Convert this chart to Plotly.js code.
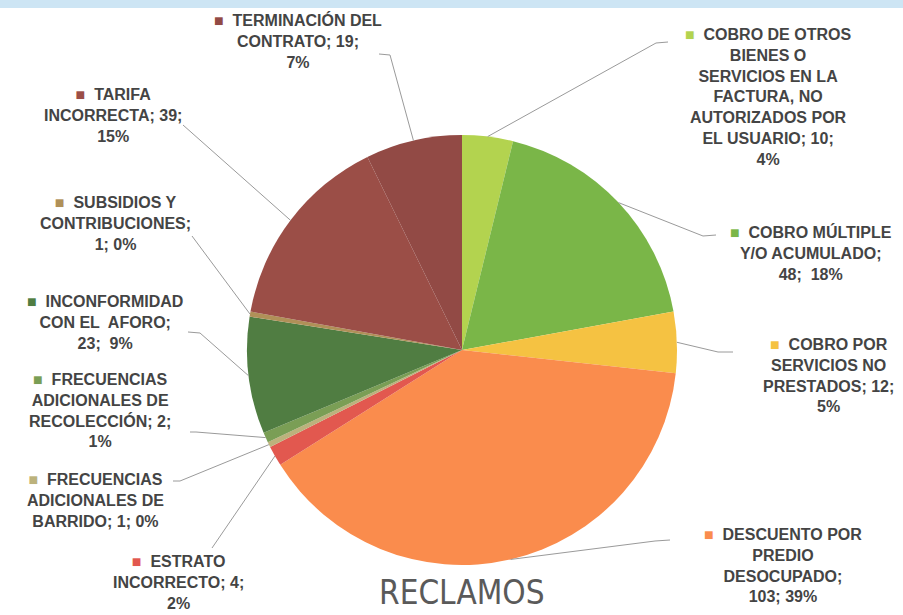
<!DOCTYPE html>
<html>
<head>
<meta charset="utf-8">
<script src="https://cdn.plot.ly/plotly-3.0.1.min.js"></script>
<style>
  html, body { margin: 0; padding: 0; background: #fff; }
  #chart { width: 903px; height: 615px; }
</style>
</head>
<body>
<div id="chart"></div>
<script>
// data
var categories = [
  'COBRO DE OTROS BIENES O SERVICIOS EN LA FACTURA, NO AUTORIZADOS POR EL USUARIO',
  'COBRO MÚLTIPLE Y/O ACUMULADO',
  'COBRO POR SERVICIOS NO PRESTADOS',
  'DESCUENTO POR PREDIO DESOCUPADO',
  'ESTRATO INCORRECTO',
  'FRECUENCIAS ADICIONALES DE BARRIDO',
  'FRECUENCIAS ADICIONALES DE RECOLECCIÓN',
  'INCONFORMIDAD CON EL AFORO',
  'SUBSIDIOS Y CONTRIBUCIONES',
  'TARIFA INCORRECTA',
  'TERMINACIÓN DEL CONTRATO'
];
var values = [10, 48, 12, 103, 4, 1, 2, 23, 1, 39, 19];
// how each category name is broken on the label
var labelLines = [
  ['COBRO DE OTROS', 'BIENES O', 'SERVICIOS EN LA', 'FACTURA, NO', 'AUTORIZADOS POR', 'EL USUARIO; {v};', '{p}'],
  ['COBRO MÚLTIPLE', 'Y/O ACUMULADO;', '{v};  {p}'],
  ['COBRO POR', 'SERVICIOS NO', 'PRESTADOS; {v};', '{p}'],
  ['DESCUENTO POR', 'PREDIO', 'DESOCUPADO;', '{v}; {p}'],
  ['ESTRATO', 'INCORRECTO; {v};', '{p}'],
  ['FRECUENCIAS', 'ADICIONALES DE', 'BARRIDO; {v}; {p}'],
  ['FRECUENCIAS', 'ADICIONALES DE', 'RECOLECCIÓN; {v};', '{p}'],
  ['INCONFORMIDAD', 'CON EL  AFORO;', '{v};  {p}'],
  ['SUBSIDIOS Y', 'CONTRIBUCIONES;', '{v}; {p}'],
  ['TARIFA', 'INCORRECTA; {v};', '{p}'],
  ['TERMINACIÓN DEL', 'CONTRATO; {v};', '{p}']
];
var colors = ['#b3d34f', '#7ab648', '#f5c242', '#fa8c4d', '#e2584f', '#bcb27c',
              '#7a9e55', '#507d42', '#b09058', '#9b4e47', '#924a45'];

// layout of pie (pixels)
var W = 903, H = 615;
var cx = 462, cy = 350, r = 215;

// label block: center x, top y ; leader line end and elbow (pixels)
var labelPos = [
  [768, 24, 668, 42, 656, 43],
  [811, 221, 716, 235, 703, 236],
  [828, 334, 733, 352, 718, 352],
  [783, 524, 670, 540, 655, 541],
  [178, 551, 212, 548, 212, 548],
  [95, 469, 173, 481, 180, 481],
  [100, 369, 190, 432, 196, 432],
  [105, 291, 188, 332, 200, 333],
  [115, 192, 192, 236, 192, 236],
  [113, 84, 183, 125, 183, 125],
  [298, 9, 379, 54, 390, 55]
];

function px(x) { return x / W; }
function py(y) { return 1 - y / H; }

var total = values.reduce(function (a, b) { return a + b; }, 0);

var annotations = [];
var shapes = [];

// light blue band at the top
shapes.push({
  type: 'rect', xref: 'paper', yref: 'paper',
  x0: 0, x1: 1, y0: py(8), y1: 1,
  fillcolor: '#cde5f4', line: {width: 0}, layer: 'below'
});

var acc = 0;
for (var i = 0; i < values.length; i++) {
  var pct = Math.round(values[i] / total * 100) + '%';
  var lines = labelLines[i].map(function (s) {
    return s.replace('{v}', values[i]).replace('{p}', pct);
  });
  lines[0] = '<span style="color:' + colors[i] + '">■</span>  ' + lines[0];
  var p = labelPos[i];
  annotations.push({
    xref: 'paper', yref: 'paper',
    x: px(p[0]), y: py(p[1]),
    xanchor: 'center', yanchor: 'top',
    text: '<b>' + lines.join('<br>') + '</b>',
    showarrow: false, align: 'center',
    font: {family: 'Liberation Sans, Arial, sans-serif', size: 16, color: '#444444'}
  });

  // leader line from middle of slice edge
  var mid = (acc + values[i] / 2) / total * 2 * Math.PI;
  acc += values[i];
  var ex = cx + r * Math.sin(mid);
  var ey = cy - r * Math.cos(mid);
  shapes.push({
    type: 'path', xref: 'paper', yref: 'paper',
    path: 'M ' + px(ex) + ',' + py(ey) + ' L ' + px(p[4]) + ',' + py(p[5]) + ' L ' + px(p[2]) + ',' + py(p[3]),
    line: {color: '#9a9a9a', width: 1}
  });
}

annotations.push({
  xref: 'paper', yref: 'paper',
  x: px(462), y: py(592),
  xanchor: 'center', yanchor: 'middle',
  text: 'RECLAMOS', showarrow: false,
  font: {family: 'DejaVu Sans Condensed, Liberation Sans, sans-serif', size: 33, color: '#5a5a5a'}
});

var trace = {
  type: 'pie',
  labels: categories,
  values: values,
  sort: false,
  direction: 'clockwise',
  rotation: 0,
  textinfo: 'none',
  hoverinfo: 'label+value+percent',
  marker: {colors: colors, line: {width: 0}},
  domain: {x: [px(cx - r), px(cx + r)], y: [py(cy + r), py(cy - r)]},
  showlegend: false
};

var layout = {
  width: W,
  height: H,
  margin: {l: 0, r: 0, t: 0, b: 0},
  paper_bgcolor: '#ffffff',
  showlegend: false,
  annotations: annotations,
  shapes: shapes
};

Plotly.newPlot('chart', [trace], layout, {displayModeBar: false, staticPlot: true});
</script>
</body>
</html>
